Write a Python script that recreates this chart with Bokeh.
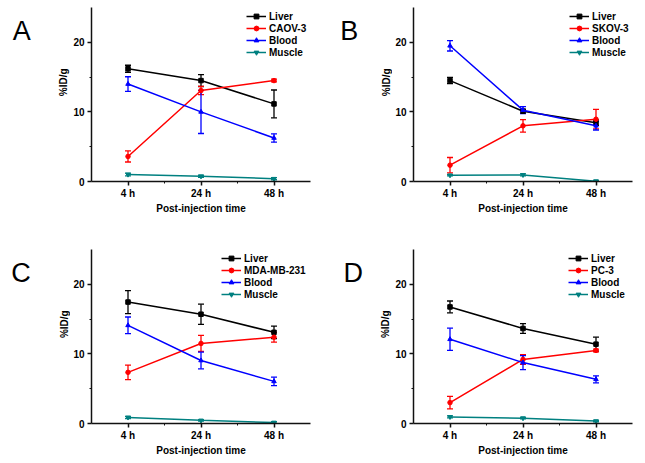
import math
from bokeh.plotting import figure
from bokeh.models import (ColumnDataSource, Whisker, TeeHead, FixedTicker, Legend,
                          LegendItem, Label, Range1d)
from bokeh.layouts import gridplot
from bokeh.embed import file_html
from bokeh.resources import INLINE

# ---------------- data ----------------
times = ["4 h", "24 h", "48 h"]
x_pos = [0, 1, 2]
panel_letters = ["A", "B", "C", "D"]
tumor_names = ["CAOV-3", "SKOV-3", "MDA-MB-231", "PC-3"]
y_title = "%ID/g"
x_title = "Post-injection time"

A_liver = [16.2, 14.5, 11.15]
A_liver_err = [0.5, 0.85, 2.0]
A_tumor = [3.6, 13.07, 14.5]
A_tumor_err = [0.8, 0.6, 0.2]
A_blood = [14.0, 10.0, 6.25]
A_blood_err = [1.05, 3.1, 0.6]
A_muscle = [1.0, 0.75, 0.4]
A_muscle_err = [0.2, 0.15, 0.15]

B_liver = [14.5, 10.1, 8.45]
B_liver_err = [0.45, 0.3, 0.4]
B_tumor = [2.35, 8.0, 8.95]
B_tumor_err = [1.1, 0.9, 1.4]
B_blood = [19.5, 10.25, 8.0]
B_blood_err = [0.75, 0.5, 0.6]
B_muscle = [0.9, 0.95, 0.05]
B_muscle_err = [0.1, 0.15, 0.1]

C_liver = [17.45, 15.7, 13.1]
C_liver_err = [1.65, 1.45, 0.9]
C_tumor = [7.35, 11.5, 12.4]
C_tumor_err = [1.05, 1.15, 0.7]
C_blood = [14.1, 9.05, 6.05]
C_blood_err = [1.2, 1.2, 0.6]
C_muscle = [0.87, 0.45, 0.15]
C_muscle_err = [0.15, 0.1, 0.1]

D_liver = [16.75, 13.65, 11.4]
D_liver_err = [0.85, 0.7, 1.0]
D_tumor = [3.0, 9.2, 10.5]
D_tumor_err = [0.9, 0.7, 0.2]
D_blood = [12.1, 8.75, 6.35]
D_blood_err = [1.6, 1.0, 0.5]
D_muscle = [0.95, 0.77, 0.35]
D_muscle_err = [0.15, 0.1, 0.1]

# ---------------- style ----------------
COLORS = ["#000000", "#ff0000", "#0000ff", "#008080"]
MARKERS = ["square", "circle", "triangle", "inverted_triangle"]
FONT = "Liberation Sans"
FS = "10px"
SIDE_W = 70


def make_side(letter, height, letter_x, letter_top_y, ylab_x, ylab_top_y):
    """Narrow figure left of each panel carrying the panel letter and the y title."""
    s = figure(width=SIDE_W, height=height, x_range=Range1d(0, SIDE_W), y_range=Range1d(0, height),
               output_backend="svg", toolbar_location=None, title=None,
               x_axis_location=None, y_axis_location=None,
               min_border_left=0, min_border_right=0, min_border_top=0, min_border_bottom=0)
    s.grid.visible = False
    s.outline_line_color = None
    s.background_fill_color = "white"
    s.border_fill_color = "white"
    s.add_layout(Label(x=letter_x, y=height - letter_top_y, text=letter, text_font=FONT,
                       text_font_size="27px", text_baseline="alphabetic", text_align="left",
                       text_color="black"))
    s.add_layout(Label(x=ylab_x, y=height - ylab_top_y, text=y_title, text_font=FONT,
                       text_font_size=FS, text_font_style="bold", angle=math.pi / 2,
                       text_baseline="middle", text_align="center", text_color="black"))
    return s


def make_panel(tumor, data, width, height, mb_left, mb_right, mb_top, mb_bottom,
               legend_x, legend_y):
    p = figure(width=width, height=height, x_range=Range1d(-0.5, 2.5), y_range=Range1d(0, 25),
               output_backend="svg", toolbar_location=None, title=None,
               min_border_left=mb_left, min_border_right=mb_right,
               min_border_top=mb_top, min_border_bottom=mb_bottom)
    p.xgrid.visible = False
    p.ygrid.visible = False
    p.outline_line_color = None
    p.background_fill_color = "white"
    p.border_fill_color = "white"

    p.xaxis.ticker = FixedTicker(ticks=x_pos, minor_ticks=[0.5, 1.5])
    p.xaxis.major_label_overrides = dict(zip(x_pos, times))
    p.yaxis.ticker = FixedTicker(ticks=[0, 10, 20], minor_ticks=[5, 15])
    p.xaxis.axis_label = x_title
    for ax in (p.xaxis, p.yaxis):
        ax.axis_line_width = 1.5
        ax.axis_line_color = "#111111"
        ax.major_tick_line_width = 1.5
        ax.major_tick_line_color = "#111111"
        ax.minor_tick_line_width = 1
        ax.minor_tick_line_color = "#111111"
        ax.major_tick_in = 0
        ax.major_tick_out = 4
        ax.minor_tick_in = 0
        ax.minor_tick_out = 2
        ax.major_label_text_font = FONT
        ax.major_label_text_font_size = FS
        ax.major_label_text_font_style = "bold"
        ax.major_label_text_color = "black"
        ax.axis_label_text_font = FONT
        ax.axis_label_text_font_size = FS
        ax.axis_label_text_font_style = "bold"
        ax.axis_label_text_color = "black"
    p.xaxis.major_label_standoff = 2
    p.xaxis.axis_label_standoff = 1
    p.yaxis.major_label_standoff = 3

    items = []
    labels = ["Liver", tumor, "Blood", "Muscle"]
    for (vals, errs), color, marker, lab in zip(data, COLORS, MARKERS, labels):
        src = ColumnDataSource(dict(
            x=x_pos, y=vals,
            upper=[v + e for v, e in zip(vals, errs)],
            lower=[v - e for v, e in zip(vals, errs)]))
        ln = p.line("x", "y", source=src, line_color=color, line_width=1.5)
        mk = p.scatter("x", "y", source=src, marker=marker, size=4.5,
                       fill_color=color, line_color=color)
        wh = Whisker(base="x", upper="upper", lower="lower", source=src,
                     line_color=color, line_width=1.3,
                     upper_head=TeeHead(size=6, line_color=color, line_width=1.3),
                     lower_head=TeeHead(size=6, line_color=color, line_width=1.3))
        p.add_layout(wh)
        items.append(LegendItem(label=lab, renderers=[ln, mk]))

    legend = Legend(items=items, location=(legend_x, legend_y),
                    label_text_font=FONT, label_text_font_size=FS,
                    label_text_font_style="bold", label_text_color="black",
                    glyph_width=20, glyph_height=12, label_height=12,
                    spacing=0, padding=0, margin=0, label_standoff=3,
                    border_line_color=None, background_fill_alpha=0)
    p.add_layout(legend)
    return p


sA = make_side(panel_letters[0], 236, 12.3, 31.7, 62.5, 101.5)
sB = make_side(panel_letters[1], 236, 17.7, 32.3, 64.0, 101.5)
sC = make_side(panel_letters[2], 227, 10.7, 30.7, 63.8, 97.5)
sD = make_side(panel_letters[3], 227, 20.9, 31.3, 62.7, 97.5)

pA = make_panel(tumor_names[0],
                [(A_liver, A_liver_err), (A_tumor, A_tumor_err), (A_blood, A_blood_err), (A_muscle, A_muscle_err)],
                322 - SIDE_W, 236, 20, 12, 7, 55, 155, 123)
pB = make_panel(tumor_names[1],
                [(B_liver, B_liver_err), (B_tumor, B_tumor_err), (B_blood, B_blood_err), (B_muscle, B_muscle_err)],
                323 - SIDE_W, 236, 20, 13, 7, 55, 156, 123)
pC = make_panel(tumor_names[2],
                [(C_liver, C_liver_err), (C_tumor, C_tumor_err), (C_blood, C_blood_err), (C_muscle, C_muscle_err)],
                322 - SIDE_W, 227, 20, 12, 13, 40, 130, 123)
pD = make_panel(tumor_names[3],
                [(D_liver, D_liver_err), (D_tumor, D_tumor_err), (D_blood, D_blood_err), (D_muscle, D_muscle_err)],
                323 - SIDE_W, 227, 20, 13, 13, 40, 155, 123)

grid = gridplot([[sA, pA, sB, pB], [sC, pC, sD, pD]], toolbar_location=None)
open("out.html", "w").write(file_html(grid, INLINE))
